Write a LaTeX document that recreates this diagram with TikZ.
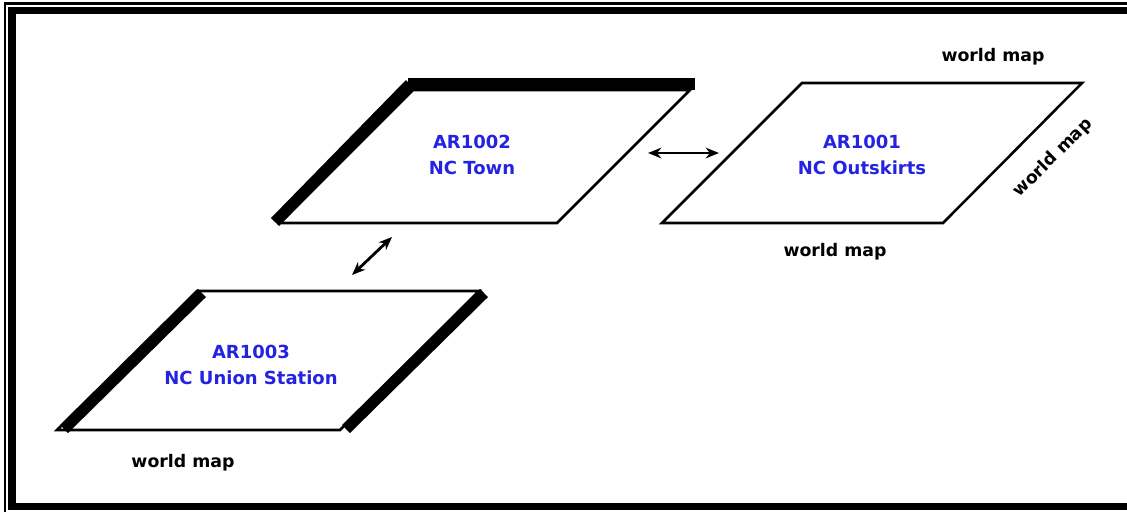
\documentclass[tikz,border=0pt]{standalone}
\usepackage{fontspec}
\setmainfont{DejaVu Sans}
\usetikzlibrary{arrows.meta}
\definecolor{lblblue}{RGB}{35,35,225}
\begin{document}
\begin{tikzpicture}[x=0.75pt,y=-0.75pt,
  thinedge/.style={line width=1.9pt, line join=miter},
  thickbar/.style={line width=8.5pt},
  link/.style={line width=2.1pt, {Stealth[length=10pt,width=8pt]}-{Stealth[length=10pt,width=8pt]}},
  arealabel/.style={text=lblblue, font=\bfseries\fontsize{13.5}{19.5}\selectfont, align=center, inner sep=0pt},
  maplabel/.style={font=\bfseries\fontsize{13}{15}\selectfont, inner sep=0pt}]
\useasboundingbox (0,0) rectangle (1127,512);
\fill[white] (0,0) rectangle (1127,512);
% frame
\fill (4,2) rectangle (1127,4.5);
\fill (4,2) rectangle (6,512);
\fill (8,6.5) rectangle (1127,14);
\fill (8,6.5) rectangle (16,510);
\fill (8,503) rectangle (1127,510);
% AR1002 NC Town
\coordinate (t-bl) at (280,223);
\coordinate (t-br) at (557,223);
\coordinate (t-tr) at (690,90);
\coordinate (t-tl) at (413,90);
\draw[thinedge] (t-bl) -- (t-br) -- (t-tr) -- (t-tl) -- cycle;
\draw[thickbar] (275,222) -- (410,84);
\draw[thickbar] (408,84) -- (695,84);
\node[arealabel] (town) at (472,155) {AR1002\\NC Town};
% AR1001 NC Outskirts
\coordinate (o-bl) at (662,223);
\coordinate (o-br) at (943,223);
\coordinate (o-tr) at (1082,83);
\coordinate (o-tl) at (802,83);
\draw[thinedge] (o-bl) -- (o-br) -- (o-tr) -- (o-tl) -- cycle;
\node[arealabel] (outskirts) at (862,155) {AR1001\\NC Outskirts};
% AR1003 NC Union Station
\coordinate (u-bl) at (57,430);
\coordinate (u-br) at (340,430);
\coordinate (u-tr) at (479,291);
\coordinate (u-tl) at (197,291);
\draw[thinedge] (u-bl) -- (u-br) -- (u-tr) -- (u-tl) -- cycle;
\draw[thickbar] (64,429) -- (202,293);
\draw[thickbar] (484,293) -- (346,429);
\node[arealabel] (union) at (251,365) {AR1003\\NC Union Station};
% world map labels
\node[maplabel] (wm1) at (993,57) {world map};
\node[maplabel, rotate=45] (wm2) at (1053,158) {world map};
\node[maplabel] (wm3) at (835,252) {world map};
\node[maplabel] (wm4) at (183,463) {world map};
% links
\coordinate (h1) at (648,153);
\coordinate (h2) at (719,153);
\draw[link] (h1) -- (h2);
\coordinate (d1) at (352,275);
\coordinate (d2) at (392,237);
\draw[link] (d1) -- (d2);
\end{tikzpicture}
\end{document}
